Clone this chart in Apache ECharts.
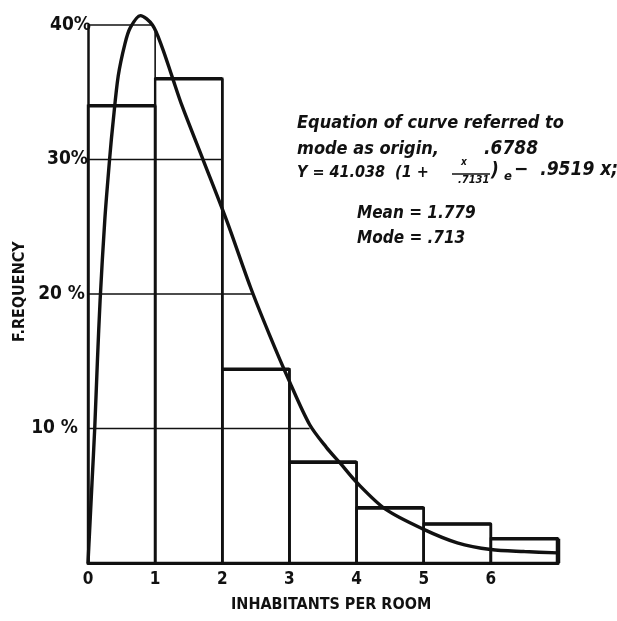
<!DOCTYPE html>
<html><head><meta charset="utf-8">
<script src="https://cdn.jsdelivr.net/npm/echarts@6/dist/echarts.min.js"></script>
<style>html,body{margin:0;padding:0;background:#fff}#c{width:617px;height:621px}</style>
</head><body><div id="c"></div>
<script>
// ---- data ----
const binEdges = [0, 1, 2, 3, 4, 5, 6, 7];
const frequencies = [34, 36, 14.4, 7.5, 4.1, 2.9, 1.8];
const curveX = [0, 0.02, 0.06, 0.10, 0.14, 0.18, 0.25, 0.33, 0.37, 0.45, 0.55, 0.63, 0.78, 0.96, 1.1, 1.25, 1.4, 1.72, 2.07, 2.42, 2.7, 3.0, 3.3, 3.55, 3.76, 4.0, 4.43, 5.0, 5.5, 6.0, 6.5, 7.0];
const curveY = [0, 2, 6, 10, 15, 19.5, 25.5, 30.5, 32.6, 36.2, 38.6, 39.8, 40.7, 40, 38.4, 36.2, 34.0, 29.9, 25.4, 20.5, 17, 13.5, 10.3, 8.6, 7.4, 6.0, 4.0, 2.5, 1.5, 1.0, 0.85, 0.75];
const gridLevels = [10, 20, 30, 40];
const gridEnds = [3.3, 2.45, 2.0, 0.97];
const vGridX = [1];
const vGridTop = [39.5];
const xTickLabels = ['0', '1', '2', '3', '4', '5', '6'];
const yTickLabels = ['10 %', '20 %', '30%', '40%'];

const NARROW = '"Liberation Sans Narrow","DejaVu Sans Condensed",sans-serif';
const INK = '#111';

const chart = echarts.init(document.getElementById('c'), null, {renderer: 'canvas'});

const barData = frequencies.map((f, i) => [binEdges[i], binEdges[i + 1], f]);
const hGridData = gridLevels.map((l, i) => [l, gridEnds[i]]);
const vGridData = vGridX.map((x, i) => [x, vGridTop[i]]);

const txt = (left, top, text, size) => ({
  type: 'text', left, top,
  style: {text, font: `italic bold ${size}px ${NARROW}`, fill: INK}
});
// right padding per y label (the hand-lettered labels are not aligned)
const yPad = {10: 13, 20: 6, 30: 3, 40: 0};

chart.setOption({
  animation: false,
  backgroundColor: '#fff',
  grid: {left: 88, right: 59, top: 25, bottom: 58},
  xAxis: {
    type: 'value', min: 0, max: 7, interval: 1,
    axisLine: {show: true, lineStyle: {color: INK, width: 3}},
    axisTick: {show: false}, splitLine: {show: false},
    axisLabel: {
      margin: 8, color: INK, fontFamily: NARROW, fontWeight: 'bold', fontSize: 17,
      formatter: v => (xTickLabels[v] !== undefined ? xTickLabels[v] : '')
    }
  },
  yAxis: {
    type: 'value', min: 0, max: 40, interval: 10,
    axisLine: {show: true, lineStyle: {color: INK, width: 2.5}},
    axisTick: {show: false}, splitLine: {show: false},
    axisLabel: {
      margin: -3, color: INK, fontFamily: NARROW, fontWeight: 'bold', fontSize: 19,
      formatter: v => { const i = gridLevels.indexOf(v); return i >= 0 ? `{p${v}|${yTickLabels[i]}}` : ''; },
      rich: Object.fromEntries(gridLevels.map(l => [`p${l}`, {padding: [0, yPad[l], 0, 0], fontFamily: NARROW, fontWeight: 'bold', fontSize: 19, color: INK}]))
    }
  },
  series: [
    {
      type: 'custom', name: 'hgrid', data: hGridData, silent: true,
      encode: {x: 1, y: 0},
      renderItem: (params, api) => {
        const a = api.coord([0, api.value(0)]);
        const b = api.coord([api.value(1), api.value(0)]);
        return {type: 'line', shape: {x1: a[0], y1: a[1], x2: b[0], y2: b[1]}, style: {stroke: INK, lineWidth: 1.6}};
      }
    },
    {
      type: 'custom', name: 'vgrid', data: vGridData, silent: true,
      encode: {x: 0, y: 1},
      renderItem: (params, api) => {
        const a = api.coord([api.value(0), 0]);
        const b = api.coord([api.value(0), api.value(1)]);
        return {type: 'line', shape: {x1: a[0], y1: a[1], x2: b[0], y2: b[1]}, style: {stroke: INK, lineWidth: 1.6}};
      }
    },
    {
      type: 'custom', name: 'bars', data: barData, silent: true,
      encode: {x: [0, 1], y: 2},
      renderItem: (params, api) => {
        const p0 = api.coord([api.value(0), 0]);
        const p1 = api.coord([api.value(1), api.value(2)]);
        const isLast = params.dataIndex === barData.length - 1;
        return {
          type: 'group',
          children: [
            {type: 'rect', shape: {x: p0[0], y: p1[1], width: p1[0] - p0[0], height: p0[1] - p1[1]},
             style: {fill: 'none', stroke: INK, lineWidth: 2.4}},
            {type: 'line', shape: {x1: p0[0], y1: p1[1], x2: p1[0], y2: p1[1]},
             style: {stroke: INK, lineWidth: 3.6}},
            {type: 'line', shape: {x1: p1[0], y1: p1[1], x2: p1[0], y2: p0[1]},
             style: {stroke: INK, lineWidth: isLast ? 4.5 : 2.6}}
          ]
        };
      }
    },
    {
      type: 'line', name: 'curve', clip: false, smooth: 0.3,
      showSymbol: false, silent: true,
      data: curveX.map((x, i) => [x, curveY[i]]),
      lineStyle: {color: INK, width: 3.4}
    }
  ],
  graphic: [
    {type: 'text', left: 231, top: 597,
     style: {text: 'INHABITANTS PER ROOM', font: `bold 16px ${NARROW}`, fill: INK}},
    {type: 'text', x: 12, y: 342, rotation: Math.PI / 2,
     style: {text: 'F.REQUENCY', font: `bold 16px ${NARROW}`, fill: INK, align: 'left', verticalAlign: 'top'}},
    txt(297, 114, 'Equation of curve referred to', 18),
    txt(297, 140, 'mode as origin,', 18),
    txt(484, 140, '.6788', 19),
    txt(297, 165, 'Y = 41.038  (1 +', 16),
    txt(461, 157, 'x', 10),
    {type: 'line', shape: {x1: 452, y1: 174, x2: 490, y2: 174}, style: {stroke: INK, lineWidth: 1.5}},
    txt(458, 175, '.7131', 11),
    txt(491, 162, ')', 19),
    txt(504, 170, 'e', 13),
    txt(514, 161, '\u2212  .9519 x;', 19),
    txt(357, 205, 'Mean = 1.779', 17),
    txt(357, 230, 'Mode = .713', 17)
  ]
});
</script></body></html>
